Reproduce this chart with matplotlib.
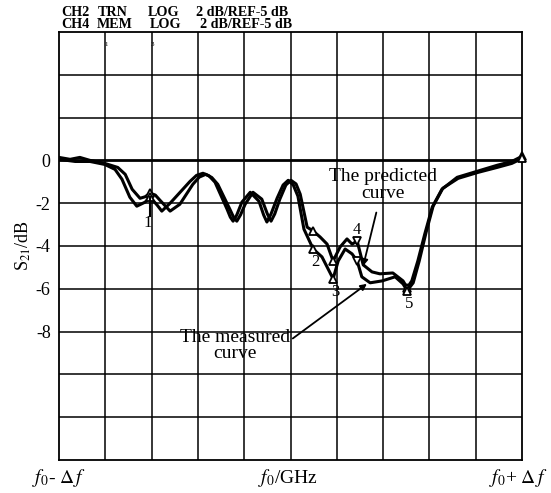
import numpy as np
import matplotlib
matplotlib.use("Agg")
import matplotlib.pyplot as plt

plt.rcParams['font.family'] = ['Liberation Serif', 'DejaVu Serif']
plt.rcParams['mathtext.fontset'] = 'stix'

# ----------------------------------------
# Data (x in grid divisions 0..10, y in dB)
pred_x = [0.00, 0.24, 0.45, 0.67, 0.99, 1.27, 1.43, 1.58, 1.75, 1.86, 1.97, 2.08, 2.18, 2.40, 2.61,
          2.89, 3.03, 3.17, 3.30, 3.43, 3.69, 3.77, 3.84, 3.92, 4.02, 4.19, 4.38, 4.50, 4.58, 4.66,
          4.77, 4.90, 5.01, 5.12, 5.21, 5.36, 5.49, 5.64, 5.79, 5.92, 6.07, 6.22, 6.33, 6.44,
          6.57, 6.76, 6.93, 7.21, 7.43, 7.52, 7.62, 7.75, 7.90, 8.06, 8.27, 8.60, 9.03, 9.46,
          9.78, 10.0]
pred_y = [0.14, 0.05, 0.14, 0.00, -0.14, -0.33, -0.65, -1.35, -1.77, -1.70, -1.53, -1.62, -1.86,
          -2.37, -2.05, -1.12, -0.78, -0.65, -0.80, -1.12, -2.28, -2.65, -2.84, -2.55, -2.05,
          -1.49, -1.81, -2.50, -2.84, -2.50, -1.81, -1.15, -0.93, -1.10, -1.58, -3.12, -3.30,
          -3.58, -3.91, -4.70, -4.05, -3.67, -3.91, -3.77, -4.88, -5.21, -5.30, -5.26, -5.63,
          -5.95, -5.63, -4.70, -3.44, -2.19, -1.35, -0.79, -0.51, -0.23, -0.05, 0.19]

meas_x = [0.00, 0.35, 0.67, 0.99, 1.21, 1.36, 1.53, 1.68, 1.86, 1.97, 2.12, 2.22, 2.40,
          2.83, 2.97, 3.11, 3.24, 3.37, 3.63, 3.70, 3.76, 3.84, 3.95, 4.13, 4.32, 4.42, 4.49, 4.58,
          4.71, 4.84, 4.95, 5.06, 5.16, 5.29, 5.49, 5.68, 5.92, 6.03, 6.18, 6.33, 6.44, 6.54,
          6.72, 6.98, 7.26, 7.43, 7.52, 7.65, 7.78, 7.93, 8.08, 8.29, 8.62, 9.05, 9.46, 9.78, 10.0]
meas_y = [0.05, -0.05, -0.05, -0.19, -0.42, -0.88, -1.72, -2.14, -1.95, -1.72, -2.09, -2.37, -2.00,
          -0.98, -0.70, -0.60, -0.72, -1.02, -2.28, -2.65, -2.84, -2.55, -1.95, -1.49, -1.91,
          -2.55, -2.88, -2.50, -1.77, -1.15, -0.93, -1.15, -1.67, -3.21, -4.14, -4.51, -5.53,
          -4.70, -4.14, -4.37, -4.70, -5.44, -5.72, -5.63, -5.44, -5.77, -6.09, -5.72, -4.70,
          -3.35, -2.14, -1.30, -0.84, -0.56, -0.33, -0.14, 0.09]

# markers 1..5 : position, value on predicted, value on measured
mk_x = [1.97, 5.49, 5.92, 6.44, 7.52]
mk_pred = [-1.53, -3.30, -4.70, -3.77, -5.95]
mk_meas = [-1.72, -4.14, -5.53, -4.70, -6.09]
mk_label = ['1', '2', '3', '4', '5']
mk_sym = ['^', '^', '^', 'v', '^']

ytick_vals = [0, -2, -4, -6, -8]

# ----------------------------------------
fig = plt.figure(figsize=(5.51, 4.93), dpi=100)
ax = fig.add_axes([59/551, 1-460/493, (522-59)/551, (460-32)/493])
ax.set_xlim(0, 10)
ax.set_ylim(-14, 6)

# screen grid
for gx in range(1, 10):
    ax.axvline(gx, color='black', lw=1.1, zorder=1)
for gy in range(-12, 6, 2):
    ax.axhline(gy, color='black', lw=2.0 if gy == 0 else 1.1, zorder=1)
for s in ax.spines.values():
    s.set_linewidth(1.3)

ax.plot(pred_x, pred_y, color='black', lw=2.2, zorder=3, solid_joinstyle='round')
ax.plot(meas_x, meas_y, color='black', lw=2.2, zorder=3, solid_joinstyle='round')

for x, yp, ym, lab, sym in zip(mk_x, mk_pred, mk_meas, mk_label, mk_sym):
    ax.plot([x, x], [yp, ym], ls='none', marker=sym, ms=6, mfc='white',
            mec='black', mew=1.3, zorder=4)
    if sym == 'v':
        ax.text(x, yp + 0.5, lab, ha='center', va='center', fontsize=12)
    elif lab == '1':
        ax.plot([x, x], [ym, ym - 0.9], color='black', lw=1.5, zorder=4)
        ax.text(x - 0.05, ym - 1.2, lab, ha='center', va='center', fontsize=12)
    else:
        ax.text(x + 0.04, ym - 0.6, lab, ha='center', va='center', fontsize=12)
# end-of-sweep marker
ax.plot([10, 10], [pred_y[-1], meas_y[-1]], ls='none', marker='^', ms=6,
        mfc='white', mec='black', mew=1.3, zorder=4, clip_on=False)

ax.set_xticks(range(11))
ax.set_xticklabels([])
ax.set_yticks(ytick_vals)
ax.set_yticklabels([str(v) for v in ytick_vals], fontsize=13)
ax.tick_params(length=0, pad=6)
ax.set_ylabel(r'S$_{21}$/dB', fontsize=13, labelpad=2)

# annotations
ax.annotate('The predicted\ncurve', xy=(6.57, -4.93), xytext=(7.0, -1.15),
            ha='center', va='center', fontsize=14, linespacing=0.95,
            arrowprops=dict(arrowstyle='-|>', color='black', lw=1.3,
                            shrinkA=6, shrinkB=0, mutation_scale=9))
ax.annotate('The measured\ncurve', xy=(6.65, -5.77), xytext=(3.8, -8.65),
            ha='center', va='center', fontsize=14, linespacing=0.95,
            arrowprops=dict(arrowstyle='-|>', color='black', lw=1.3,
                            shrinkA=0, shrinkB=0, mutation_scale=9,
                            relpos=(1.0, 0.65)))

# x labels
fig.text(59/551, 1-478/493, r'$f_0$- $\Delta\, f$', ha='center', va='center', fontsize=14)
fig.text(288/551, 1-478/493, r'$f_0$/GHz', ha='center', va='center', fontsize=14)
fig.text(518/551, 1-478/493, r'$f_0$+ $\Delta\, f$', ha='center', va='center', fontsize=14)

# header lines of the analyser
for y, parts in [(12, [(61, 'CH2'), (98, 'TRN'), (148, 'LOG'), (196, '2 dB/REF-5 dB')]),
                 (25, [(61, 'CH4'), (97, 'MEM'), (150, 'LOG'), (200, '2 dB/REF-5 dB')])]:
    for x, t in parts:
        fig.text(x/551, 1-y/493, t, ha='left', va='center', fontsize=10.2, fontweight='bold')
fig.text(106/551, 1-45/493, '1', ha='center', va='center', fontsize=5)
fig.text(152/551, 1-45/493, '3', ha='center', va='center', fontsize=5)

fig.savefig('out.png', dpi=100)
